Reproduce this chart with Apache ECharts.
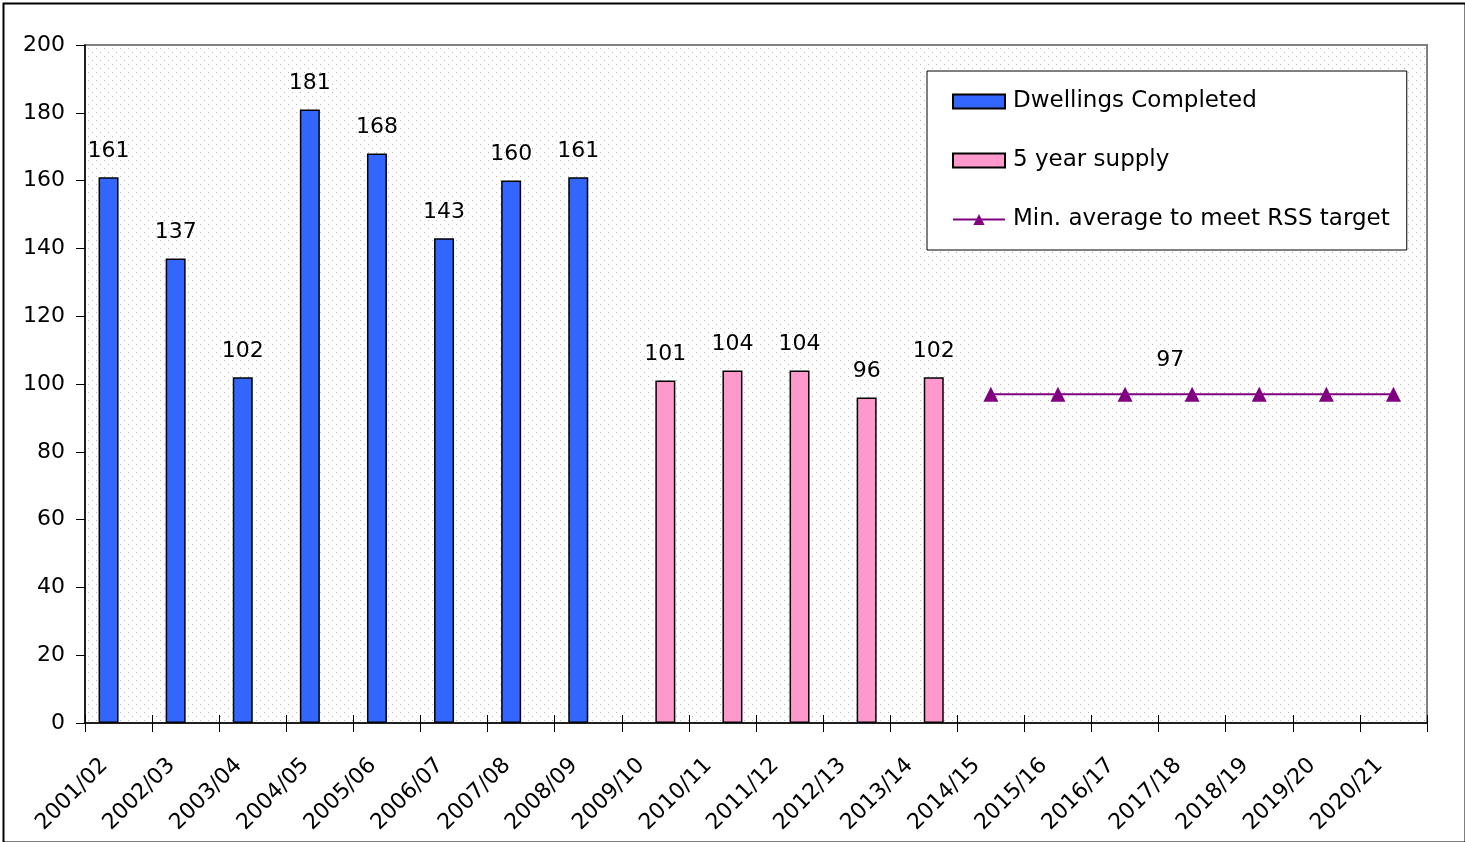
<!DOCTYPE html>
<html><head><meta charset="utf-8">
<script src="https://cdn.jsdelivr.net/npm/echarts@6/dist/echarts.min.js"></script>
<style>html,body{margin:0;padding:0;background:#fff}#c{width:1465px;height:842px}</style>
</head><body><div id="c"></div>
<script>
const categories = ['2001/02','2002/03','2003/04','2004/05','2005/06','2006/07','2007/08','2008/09','2009/10','2010/11','2011/12','2012/13','2013/14','2014/15','2015/16','2016/17','2017/18','2018/19','2019/20','2020/21'];
const dwellingsCompleted = [161,137,102,181,168,143,160,161,'-','-','-','-','-','-','-','-','-','-','-','-'];
const fiveYearSupply = ['-','-','-','-','-','-','-','-',101,104,104,96,102,'-','-','-','-','-','-','-'];
const rssTarget = ['-','-','-','-','-','-','-','-','-','-','-','-','-',97,97,97,97,97,97,97];
const yTicks = {min:0, max:200, interval:20};

const tile = document.createElement('canvas');
tile.width = 8; tile.height = 8;
const tc = tile.getContext('2d');
tc.fillStyle = '#ffffff'; tc.fillRect(0,0,8,8);
tc.fillStyle = '#b8b8b8';
tc.fillRect(0,0,1,1); tc.fillRect(4,4,1,1);

const chart = echarts.init(document.getElementById('c'), null, {renderer:'canvas'});
const font = 'DejaVu Sans, Verdana, sans-serif';
chart.setOption({
  animation:false,
  textStyle:{fontFamily:font},
  grid:{left:85,right:38,top:45,bottom:119,show:true,
    backgroundColor:{image:tile,repeat:'repeat'},borderColor:'#808080',borderWidth:2},
  legend:{
    orient:'vertical', left:927, top:71,
    backgroundColor:'#ffffff', borderColor:'#000', borderWidth:1,
    padding:[19,17,19,25], itemWidth:52, itemHeight:14, itemGap:36,
    textStyle:{fontSize:23,color:'#000',fontFamily:font,padding:[0,0,0,3]},
    data:[{name:'Dwellings Completed',icon:'rect'},{name:'5 year supply',icon:'rect'},'Min. average to meet RSS target']
  },
  xAxis:[{type:'category',data:categories,
    axisLine:{lineStyle:{color:'#000',width:1.5}},
    axisTick:{show:true,length:9,lineStyle:{color:'#000'}},
    axisLabel:{rotate:45,fontSize:22,color:'#000',margin:25,padding:[0,20,0,0],fontFamily:font}},
    {type:'category',data:categories,position:'bottom',
    axisLine:{show:false},
    axisTick:{show:true,inside:true,length:8,lineStyle:{color:'#000'}},
    axisLabel:{show:false}}],
  yAxis:{type:'value',min:yTicks.min,max:yTicks.max,interval:yTicks.interval,
    axisLine:{show:true,lineStyle:{color:'#000',width:1.5}},
    axisTick:{show:true,length:9,lineStyle:{color:'#000'}},
    splitLine:{show:false},
    axisLabel:{fontSize:22,color:'#000',margin:20,fontFamily:font}},
  series:[
    {name:'Dwellings Completed',type:'bar',data:dwellingsCompleted,barWidth:20,barGap:'0%',
      itemStyle:{color:'#3366ff',borderColor:'#000',borderWidth:1.5},
      label:{show:true,position:'top',distance:15,fontSize:22,color:'#000',fontFamily:font}},
    {name:'5 year supply',type:'bar',data:fiveYearSupply,barWidth:20,barGap:'0%',
      itemStyle:{color:'#ff99cc',borderColor:'#000',borderWidth:1.5},
      label:{show:true,position:'top',distance:15,fontSize:22,color:'#000',fontFamily:font}},
    {name:'Min. average to meet RSS target',type:'line',data:rssTarget,
      symbol:'triangle',symbolSize:15,
      lineStyle:{color:'#800080',width:2},itemStyle:{color:'#800080'},
      label:{show:true,fontSize:22,color:'#000',fontFamily:font,
        formatter:function(p){return p.dataIndex===16?p.value:'';},
        position:'top',offset:[-22,-10]}}
  ],
  graphic:[{type:'rect',left:1,top:1,shape:{width:1462,height:839},
    style:{fill:'none',stroke:'#000',lineWidth:2},silent:true}]
});
</script></body></html>
